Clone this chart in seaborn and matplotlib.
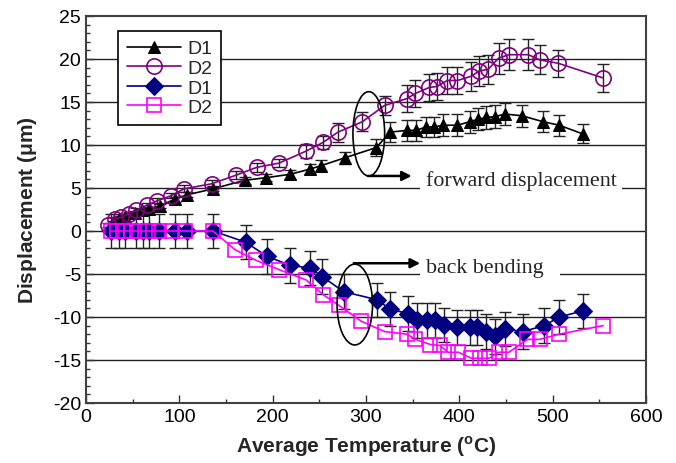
import matplotlib
matplotlib.use("Agg")
import matplotlib.pyplot as plt
import seaborn as sns
import numpy as np
from matplotlib.patches import Ellipse
from matplotlib.ticker import MultipleLocator

# ---- data ----
t_tri = [30, 35, 42, 52, 60, 67, 79, 95, 108, 136, 170, 193, 219, 240, 252, 277, 311, 326, 344, 354, 364, 373,
         383, 398, 411, 420, 429, 438, 449, 467, 490, 507, 532]
d_tri = [1.0, 1.4, 1.6, 2.1, 2.4, 2.6, 2.9, 3.7, 4.2, 4.9, 5.9, 6.2, 6.6, 7.2, 7.6, 8.5, 9.7, 11.5, 11.7, 11.7,
         12.1, 12.1, 12.3, 12.3, 12.7, 13.0, 13.2, 13.3, 13.6, 13.4, 12.7, 12.3, 11.3]
e_tri = [0.2, 0.2, 0.2, 0.2, 0.2, 0.2, 0.2, 0.3, 0.3, 0.3, 0.4, 0.4, 0.5, 0.6, 0.6, 0.7, 1.0, 1.2, 1.2, 1.2,
         1.2, 1.2, 1.3, 1.3, 1.3, 1.3, 1.3, 1.3, 1.3, 1.3, 1.2, 1.2, 1.1]

t_cir = [24, 31, 38, 46, 54, 65, 76, 91, 105, 135, 161, 183, 207, 236, 254, 270, 296, 320, 344, 353, 368, 376,
         387, 398, 413, 421, 431, 442, 453, 474, 486, 506, 554]
d_cir = [0.7, 1.4, 1.6, 2.0, 2.4, 3.0, 3.5, 4.1, 4.9, 5.5, 6.5, 7.4, 7.9, 9.3, 10.3, 11.5, 12.7, 14.6, 15.4, 16.0,
         16.7, 16.8, 17.5, 17.5, 18.0, 18.6, 18.8, 20.1, 20.5, 20.5, 19.9, 19.5, 17.8]
e_cir = [0.2, 0.2, 0.2, 0.2, 0.3, 0.3, 0.3, 0.3, 0.4, 0.4, 0.5, 0.5, 0.5, 0.8, 0.8, 1.1, 1.1, 1.1, 1.6, 1.6,
         1.6, 1.6, 1.6, 1.6, 1.7, 1.7, 1.7, 1.8, 1.8, 1.8, 1.7, 1.6, 1.6]

t_dia = [27, 35, 42, 54, 61, 67, 78, 95, 108, 136, 171, 194, 219, 240, 253, 276, 312, 326, 345, 355, 365, 374,
         384, 398, 411, 419, 429, 438, 449, 468, 491, 507, 532]
d_dia = [0, 0, 0, 0, 0, 0, 0, 0, 0, 0, -1.3, -2.95, -4.0, -4.3, -5.3, -7.05, -8.0, -9.1, -9.6, -10.4, -10.4,
         -10.4, -10.9, -11.2, -11.2, -11.2, -11.7, -12.25, -11.4, -11.7, -11.0, -10.0, -9.3]
e_dia = [2.0] * 33

t_sq = [27, 33, 40, 48, 57, 66, 78, 92, 106, 136, 160, 182, 207, 236, 254, 271, 295, 320, 344, 353, 369, 379,
        388, 399, 413, 422, 432, 442, 453, 473, 486, 507, 554]
d_sq = [0, 0, 0, 0, 0, 0, 0, 0, 0, 0, -2.2, -3.4, -4.5, -5.7, -7.4, -8.65, -10.5, -11.7, -12.0, -12.6, -13.2,
        -13.3, -14.1, -14.1, -14.8, -14.8, -14.8, -14.1, -14.1, -12.6, -12.6, -12.0, -11.0]

labels = ["D1", "D2", "D1", "D2"]

# ---- plot ----
sns.set_style("white")
plt.rcParams['font.family'] = ['Liberation Sans', 'DejaVu Sans']
plt.rcParams['axes.unicode_minus'] = False
plt.rcParams['mathtext.fontset'] = 'custom'
plt.rcParams['mathtext.bf'] = 'Liberation Sans:bold'
plt.rcParams['mathtext.rm'] = 'Liberation Sans'

fig = plt.figure(figsize=(6.76, 4.64), dpi=100)
ax = fig.add_axes([86 / 676, 1 - 404 / 464, 560 / 676, 387 / 464])

for yv in [20, 15, 10, 5, 0, -5, -10, -15]:
    ax.axhline(yv, color='#202020', lw=1.0, zorder=0)

eb = dict(fmt='none', ecolor='#222222', elinewidth=1.0, capsize=4, capthick=1.0, zorder=2)
ax.errorbar(t_tri, d_tri, yerr=e_tri, **eb)
ax.errorbar(t_cir, d_cir, yerr=e_cir, **eb)
ax.errorbar(t_dia, d_dia, yerr=e_dia, **eb)

sns.lineplot(x=t_tri, y=d_tri, ax=ax, color='black', marker='^', markersize=9, markeredgecolor='black',
             lw=1.2, label=labels[0], zorder=3, sort=False)
sns.lineplot(x=t_cir, y=d_cir, ax=ax, color='#800080', marker='o', markersize=11, markerfacecolor='none',
             markeredgecolor='#800080', markeredgewidth=1.2, lw=1.2, label=labels[1], zorder=3, sort=False)
sns.lineplot(x=t_dia, y=d_dia, ax=ax, color='#000080', marker='D', markersize=9, markeredgecolor='#000080',
             lw=1.2, label=labels[2], zorder=3, sort=False)
sns.lineplot(x=t_sq, y=d_sq, ax=ax, color='#FF00FF', marker='s', markersize=9.5, markerfacecolor='none',
             markeredgecolor='#FF00FF', markeredgewidth=1.2, lw=1.2, label=labels[3], zorder=3, sort=False)

# annotations
ax.add_patch(Ellipse((303, 11.3), 34, 9.8, fill=False, edgecolor='black', lw=1.2, zorder=4))
ax.add_patch(Ellipse((288, -8.55), 38, 9.4, fill=False, edgecolor='black', lw=1.2, zorder=4))
ax.annotate('', xy=(352, 6.4), xytext=(299, 6.4),
            arrowprops=dict(arrowstyle='-|>', color='black', lw=1.8, mutation_scale=14), zorder=5)
ax.annotate('', xy=(361, -3.75), xytext=(284, -3.75),
            arrowprops=dict(arrowstyle='-|>', color='black', lw=1.8, mutation_scale=14), zorder=5)
ax.text(364, 5.9, 'forward displacement', family=['Liberation Serif'], fontsize=15.8, va='center', ha='left',
        bbox=dict(facecolor='white', edgecolor='none', pad=4), zorder=1)
ax.text(364, -4.2, 'back bending  ', family=['Liberation Serif'], fontsize=15.8, va='center', ha='left',
        bbox=dict(facecolor='white', edgecolor='none', pad=4), zorder=1)

ax.set_xlim(0, 600)
ax.set_ylim(-20, 25)
ax.xaxis.set_major_locator(MultipleLocator(100))
ax.xaxis.set_minor_locator(MultipleLocator(50))
ax.yaxis.set_major_locator(MultipleLocator(5))
ax.yaxis.set_minor_locator(MultipleLocator(1))
ax.tick_params(axis='both', which='major', direction='in', length=6, width=1, labelsize=14, colors='#333333',
               labelcolor='black')
ax.tick_params(axis='both', which='minor', direction='in', length=3, width=1, colors='#333333')
ax.tick_params(axis='x', which='both', bottom=True)
ax.tick_params(axis='y', which='both', left=True)
for s in ax.spines.values():
    s.set_color('#404040')
    s.set_linewidth(1.5)

ax.set_xlabel(r'Average Temperature ($^{\mathbf{o}}$C)', fontsize=15, fontweight='bold', labelpad=6)
ax.set_ylabel(r'Displacement ($\mathbf{\mu}$m)', fontsize=15, fontweight='bold', labelpad=10)

leg = ax.legend(loc='upper left', bbox_to_anchor=(0.057, 0.961), borderaxespad=0, fancybox=False,
                edgecolor='black', framealpha=1, fontsize=14, handlelength=2.8, labelspacing=0.1,
                borderpad=0.45, handletextpad=0.3)
leg.get_frame().set_linewidth(1.2)
leg.set_zorder(6)

fig.savefig('out.png', dpi=100)
